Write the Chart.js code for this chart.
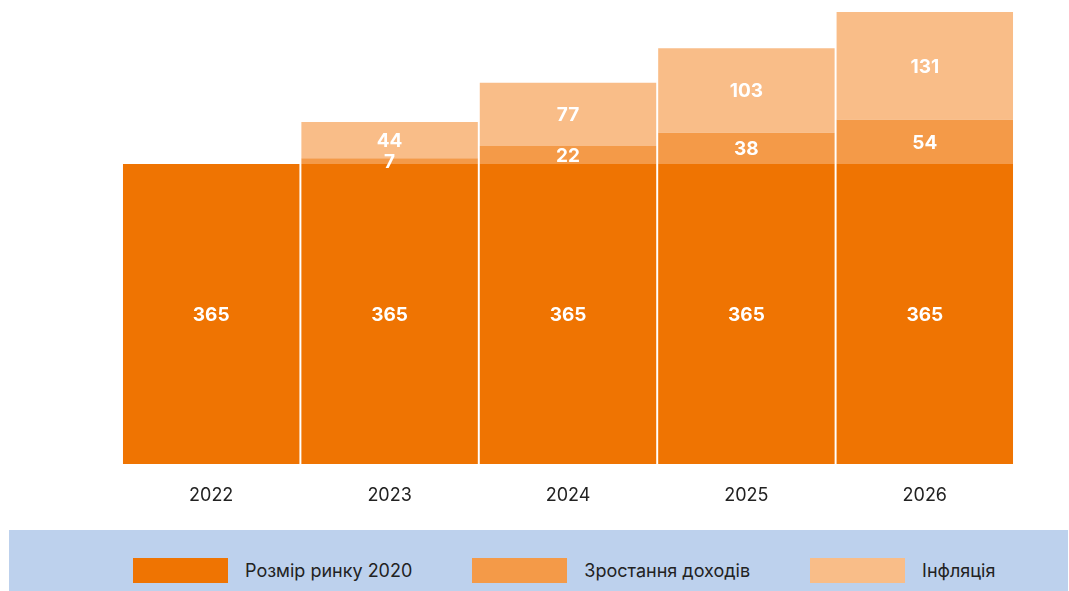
<!DOCTYPE html>
<html>
<head>
<meta charset="utf-8">
<script src="https://cdn.jsdelivr.net/npm/chart.js@4/dist/chart.umd.min.js"></script>
<style>
  body { margin: 0; background: #fff; font-family: Inter, "Noto Sans", sans-serif; }
  .wrap { position: relative; width: 1069px; height: 591px; overflow: hidden; }
  .chart-box { position: absolute; left: 0; top: 0; width: 1069px; height: 525px; }
  .legend {
    position: absolute; left: 9px; top: 530px; width: 1059px; height: 61px;
    background: #bdd1ed; display: flex; align-items: flex-start;
    padding-left: 124px; padding-top: 28px; box-sizing: border-box; gap: 60px;
  }
  .legend-item { display: flex; align-items: center; font-size: 18px; color: #222; height: 25px; }
  .legend-item span.swatch { display: inline-block; width: 95px; height: 25px; margin-right: 17px; }
</style>
</head>
<body>
<div class="wrap">
  <div class="chart-box"><canvas id="marketCanvas"></canvas></div>
  <div class="legend" id="legend"></div>
</div>
<script>
const years = ['2022', '2023', '2024', '2025', '2026'];
const baseMarket = [365, 365, 365, 365, 365];
const incomeGrowth = [0, 7, 22, 38, 54];
const inflation = [0, 44, 77, 103, 131];

const seriesNames = ['Розмір ринку 2020', 'Зростання доходів', 'Інфляція'];
const seriesColors = ['#ef7402', '#f49a48', '#f9bd88'];

// writes the value of each segment in its middle
const segmentLabels = {
    id: 'segmentLabels',
    afterDatasetsDraw(chart) {
        const ctx = chart.ctx;
        ctx.save();
        ctx.fillStyle = '#ffffff';
        ctx.font = 'bold 19px Inter, "Noto Sans", sans-serif';
        ctx.textAlign = 'center';
        ctx.textBaseline = 'middle';
        chart.data.datasets.forEach((ds, i) => {
            const meta = chart.getDatasetMeta(i);
            meta.data.forEach((bar, j) => {
                const v = ds.data[j];
                if (!v) return;
                ctx.fillText(String(v), bar.x, (bar.y + bar.base) / 2 + 1);
            });
        });
        ctx.restore();
    }
};

document.addEventListener('DOMContentLoaded', function() {
    const ctx = document.getElementById('marketCanvas').getContext('2d');
    const values = [baseMarket, incomeGrowth, inflation];

    const chart = new Chart(ctx, {
        type: 'bar',
        data: {
            labels: years,
            datasets: values.map((arr, i) => ({
                label: seriesNames[i],
                data: arr,
                backgroundColor: seriesColors[i],
                borderWidth: 0,
                barPercentage: 0.989,
                categoryPercentage: 1
            }))
        },
        options: {
            responsive: true,
            maintainAspectRatio: false,
            animation: false,
            layout: {
                padding: { left: 122, right: 55, top: 12, bottom: 0 }
            },
            plugins: {
                legend: { display: false },
                tooltip: { enabled: false }
            },
            scales: {
                x: {
                    stacked: true,
                    grid: { display: false, drawTicks: false },
                    border: { display: false },
                    ticks: {
                        color: '#222',
                        padding: 21,
                        font: { family: 'Inter', size: 18 }
                    },
                    afterFit: function(axis) { axis.height = 61; }
                },
                y: {
                    stacked: true,
                    display: false,
                    min: 0,
                    max: 550
                }
            }
        },
        plugins: [segmentLabels]
    });

    // legend boxes built from the datasets
    const legend = document.getElementById('legend');
    chart.data.datasets.forEach(ds => {
        const item = document.createElement('div');
        item.className = 'legend-item';
        const sw = document.createElement('span');
        sw.className = 'swatch';
        sw.style.background = ds.backgroundColor;
        item.appendChild(sw);
        item.appendChild(document.createTextNode(ds.label));
        legend.appendChild(item);
    });
});
</script>
</body>
</html>
